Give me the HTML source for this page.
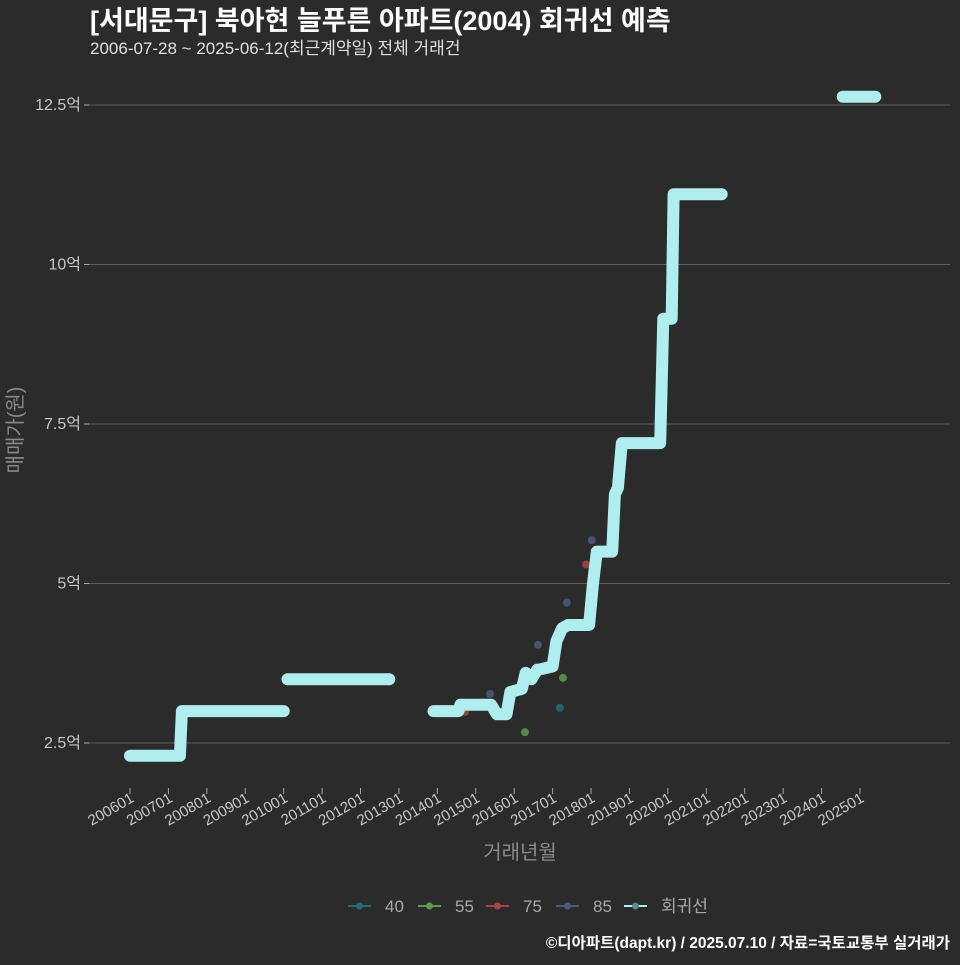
<!DOCTYPE html>
<html><head><meta charset="utf-8"><style>
body{margin:0;background:#2b2b2b;}
svg text{font-family:"Liberation Sans","Noto Sans CJK KR",sans-serif;}
</style></head><body>
<svg id="chart" width="960" height="960" xmlns="http://www.w3.org/2000/svg">
<rect width="960" height="960" fill="#2b2b2b"/>
<text x="90" y="30" fill="#ffffff" font-size="27" font-weight="bold">[서대문구] 북아현 늘푸른 아파트(2004) 회귀선 예측</text>
<text x="90" y="54" fill="#e0e0e0" font-size="17">2006-07-28 ~ 2025-06-12(최근계약일) 전체 거래건</text>
<g id="grid"></g><g id="xaxis"></g><g id="yaxis"></g><g id="series"></g>
<text transform="translate(22,430) rotate(-90)" text-anchor="middle" fill="#8a8a8a" font-size="20">매매가(원)</text>
<text x="520" y="859" text-anchor="middle" fill="#8a8a8a" font-size="20">거래년월</text>
<g id="legend"></g>
<text x="950" y="948" text-anchor="end" fill="#ffffff" font-size="15.5" font-weight="bold">©디아파트(dapt.kr) / 2025.07.10 / 자료=국토교통부 실거래가</text>
</svg>
<script>
const yTicks=[2.5,5,7.5,10,12.5];
const yTickLabels=["2.5억","5억","7.5억","10억","12.5억"];
const xTicks=[2006,2007,2008,2009,2010,2011,2012,2013,2014,2015,2016,2017,2018,2019,2020,2021,2022,2023,2024,2025];
const xTickLabels=["200601","200701","200801","200901","201001","201101","201201","201301","201401","201501","201601","201701","201801","201901","202001","202101","202201","202301","202401","202501"];
const regYears=[2006.0,2007.3,2007.35,2010.0,null,2010.1,2012.75,null,2013.9,2014.55,2014.6,2015.4,2015.55,2015.8,2015.9,2016.2,2016.3,2016.45,2016.6,2016.65,2017.0,2017.1,2017.25,2017.4,2017.95,2018.05,2018.15,2018.55,2018.62,2018.7,2018.8,2019.8,2019.88,2020.1,2020.15,2021.4,null,2024.55,2025.4];
const regValues=[2.3,2.3,3.0,3.0,null,3.5,3.5,null,3.0,3.0,3.1,3.1,2.95,2.95,3.3,3.35,3.6,3.5,3.65,3.65,3.7,4.1,4.3,4.35,4.35,5.0,5.5,5.5,6.4,6.5,7.2,7.2,9.15,9.15,11.1,11.1,null,12.63,12.63];
const ptYears=[2018.02,2017.87,2017.37,2016.62,2017.27,2015.37,2014.72,2017.19,2016.28];
const ptValues=[5.68,5.3,4.7,4.04,3.52,3.27,2.99,3.05,2.67];
const ptGroups=["85","75","85","85","55","85","75","40","55"];
const groups=["40","55","75","85"];
const groupColors={"40":"#1f6e72","55":"#5c9a4c","75":"#a84444","85":"#4c5a7c"};
const NS="http://www.w3.org/2000/svg";
function X(t){return 130+(t-2006)*38.42;}
function Y(v){return 743-(v-2.5)*63.8;}
function mk(tag,attrs,parent){const e=document.createElementNS(NS,tag);for(const k in attrs)e.setAttribute(k,attrs[k]);parent.appendChild(e);return e;}
const grid=document.getElementById('grid'),ya=document.getElementById('yaxis'),xa=document.getElementById('xaxis'),se=document.getElementById('series'),lg=document.getElementById('legend');
yTicks.forEach((v,i)=>{
 const l=mk('line',{x1:85,x2:950,y1:Y(v),y2:Y(v),stroke:'#5e5e5e','stroke-width':1},grid);
 
 
 const tk=mk('line',{x1:84,x2:89,y1:Y(v),y2:Y(v),stroke:'#aaa'},ya);
 
 
 const t=mk('text',{x:81,y:Y(v)+5,'text-anchor':'end',fill:'#c8c8c8','font-size':16},ya);
 t.textContent=yTickLabels[i];
 
 
});
xTicks.forEach((t0,i)=>{
 const x=X(t0);
 const tk=mk('line',{x1:x,x2:x,y1:788,y2:794,stroke:'#aaa'},xa);
 
 
 const t=mk('text',{transform:`translate(${x+5},${801}) rotate(-30)`,'text-anchor':'end',fill:'#c8c8c8','font-size':15},xa);
 t.textContent=xTickLabels[i];
 
 
});
ptYears.forEach((yr,i)=>{
 const c=mk('circle',{cx:X(yr),cy:Y(ptValues[i]),r:4,fill:groupColors[ptGroups[i]],opacity:0.85},se);
 
 
});
let segs=[],cur=[];
regYears.forEach((yr,i)=>{if(yr===null){if(cur.length)segs.push(cur);cur=[];}else cur.push(X(yr).toFixed(1)+','+Y(regValues[i]).toFixed(1));});
if(cur.length)segs.push(cur);
segs.forEach(s=>{
 const p=mk('polyline',{points:s.join(' '),fill:'none',stroke:'#aeeeee','stroke-width':12,'stroke-linecap':'round','stroke-linejoin':'round'},se);
 
 
});
const legItems=groups.concat(["회귀선"]);
const legX=[348,418,486,556,624];
const legColors=[groupColors["40"],groupColors["55"],groupColors["75"],groupColors["85"],"#aeeeee"];
legItems.forEach((g,i)=>{
 const gg=mk('g',{},lg);
 
 
 mk('line',{x1:legX[i],x2:legX[i]+23,y1:906,y2:906,stroke:legColors[i],'stroke-width':2},gg);
 mk('circle',{cx:legX[i]+11.5,cy:906,r:3.5,fill:i==4?'#5a8a8a':legColors[i]},gg);
 const t=mk('text',{x:legX[i]+37,y:912,fill:'#a8a8a8','font-size':17},gg);
 t.textContent=g;
});
</script>
</body></html>
